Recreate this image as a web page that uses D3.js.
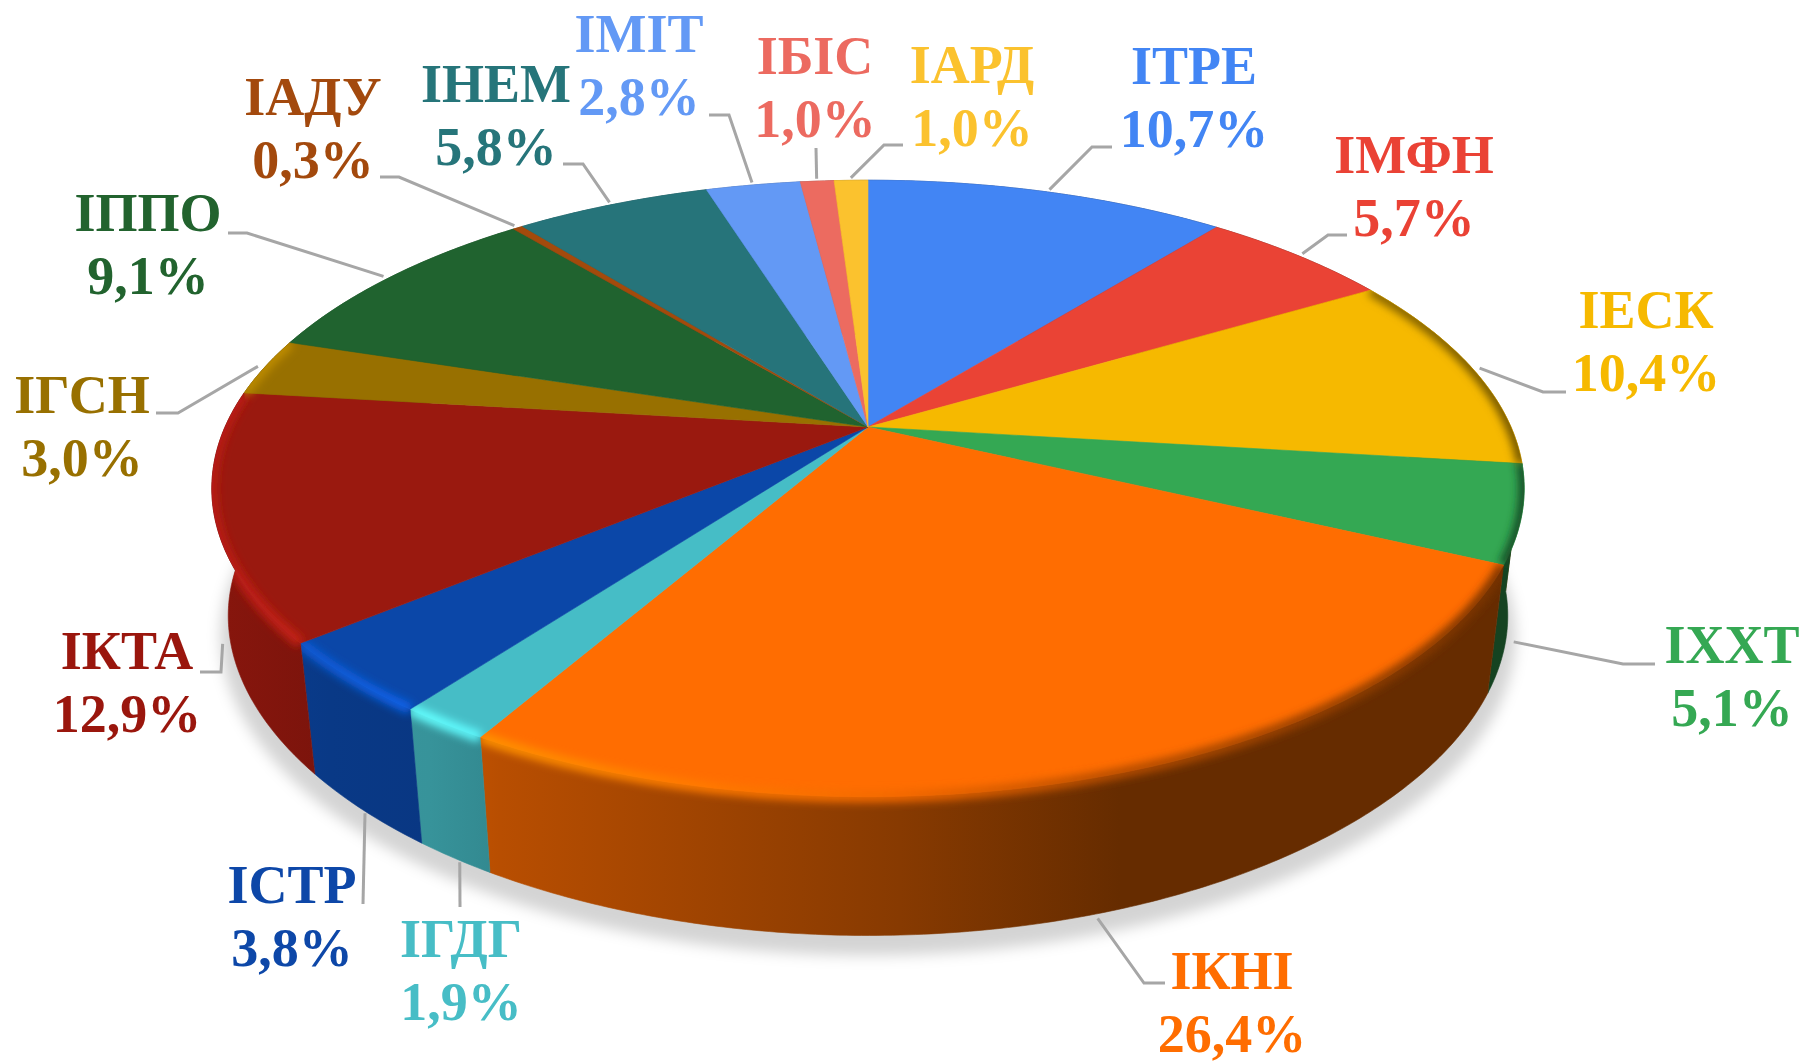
<!DOCTYPE html>
<html>
<head>
  <meta charset="utf-8">
  <title>Розподіл за інститутами</title>
  <script src="https://d3js.org/d3.v7.min.js"></script>
  <style>
    html, body {
      margin: 0;
      padding: 0;
      background: #fff;
    }
    svg {
      display: block;
    }
    .label text {
      font-family: "Liberation Serif", serif;
      font-weight: bold;
      font-size: 54px;
      text-anchor: middle;
    }
    .leader {
      fill: none;
      stroke: #a6a6a6;
      stroke-width: 3;
    }
  </style>
</head>
<body>
  <div id="chart"></div>

  <script>
    // data, clockwise from 12 o'clock
    const categories = ["ІТРЕ", "ІМФН", "ІЕСК", "ІХХТ", "ІКНІ", "ІГДГ", "ІСТР", "ІКТА", "ІГСН", "ІППО", "ІАДУ", "ІНЕМ", "ІМІТ", "ІБІС", "ІАРД"];
    const shares = [10.7, 5.7, 10.4, 5.1, 26.4, 1.9, 3.8, 12.9, 3.0, 9.1, 0.3, 5.8, 2.8, 1.0, 1.0];
    const colors = ["#4285f4", "#ea4335", "#f6b900", "#34a853", "#ff6d01", "#46bdc6", "#0b47a8", "#9a190f", "#987000", "#20632f", "#a34a0c", "#26747a", "#6399f5", "#ec6b60", "#fbc22e"];

    // label layout, same order as categories
    const labelX = [1194, 1414, 1646, 1732, 1232, 461, 292, 127, 82, 148, 313, 496, 639, 815, 972];
    const labelY = [84, 173, 328, 663, 989, 957, 903, 669, 413, 231, 115, 102, 52, 74, 83];
    const leaderElbow = [[1092, 147], [1328, 235], [1543, 392], [1623, 664], [1144, 983], null, null, [221, 672], [178, 413], [247, 233], [399, 177], [583, 164], [729, 115], null, [884, 145]];
    const leaderEnd = [[1112, 147], [1347, 235], [1566, 392], [1655, 664], [1165, 983], [460, 907], [363, 904], [200, 672], [156, 413], [228, 233], [380, 177], [563, 164], [709, 115], [816, 148], [903, 145]];
    const leaderShift = [0, 0, 0, 0, -5, 11, 9, 0, 0, 0, 0, 0, 0, 0, 0];

    const width = 1802;
    const height = 1063;
    const lineGap = 62.5;

    // pie geometry: a circle seen in perspective, with a lower rim for the side wall
    const cx = 868, cy = 427;
    const radX = 643, radY = 296, persp = 0.1994;
    const bottomScale = 0.975, depth = 148, depthSides = 20;
    const angleLean = 0.006; // rim points sit a bit further to the front than the plain projection

    function project(angle, r, bottom) {
      const t = angle + angleLean * Math.sin(angle);
      const u = r * Math.sin(t);
      const v = -r * Math.cos(t);
      const s = 1 / (1 - persp * v);
      let x = radX * u * s;
      let y = radY * v * s;
      if (bottom) {
        x *= bottomScale;
        y = y * bottomScale + depth - depthSides * u * u; // wall looks shorter towards the sides
      }
      return [cx + x, cy + y];
    }

    function arcPoints(a0, a1, bottom) {
      const n = Math.max(2, Math.ceil((a1 - a0) / 0.01));
      return d3.range(n + 1).map(i => project(a0 + (a1 - a0) * i / n, 1, bottom));
    }

    const line = d3.line();
    const closed = pts => line(pts) + "Z";

    const slices = d3.pie().sort(null).value(d => d)(shares);

    const svg = d3.select("#chart")
      .append("svg")
      .attr("width", width)
      .attr("height", height);

    const defs = svg.append("defs");

    // side wall gets darker from left to right
    const shadeX = d3.scaleLinear().domain([200, 1530]).range([0, 1]);
    const sideStops = [[211, 0.88], [330, 0.8], [430, 0.78], [500, 0.72], [900, 0.53], [1120, 0.4], [1530, 0.4]];
    const bevelStops = [[211, 1.2], [330, 1.3], [430, 1.42], [520, 1.3], [700, 1.12], [900, 0.95], [1100, 0.72], [1530, 0.45]];

    function tint(color, f) {
      const c = d3.rgb(color);
      return d3.rgb(c.r * f, c.g * f, c.b * f).formatHex();
    }

    function addGradient(id, color, stops) {
      const g = defs.append("linearGradient")
        .attr("id", id)
        .attr("gradientUnits", "userSpaceOnUse")
        .attr("x1", shadeX.invert(0)).attr("y1", 0)
        .attr("x2", shadeX.invert(1)).attr("y2", 0);
      stops.forEach(s => {
        g.append("stop")
          .attr("offset", shadeX(s[0]))
          .attr("stop-color", tint(color, s[1]));
      });
    }

    function addBlur(id, dev) {
      defs.append("filter")
        .attr("id", id)
        .attr("filterUnits", "userSpaceOnUse")
        .attr("x", 0).attr("y", 0)
        .attr("width", width).attr("height", height)
        .append("feGaussianBlur")
        .attr("stdDeviation", dev);
    }
    addBlur("shadowBlur", 7);
    addBlur("bevelBlur", 4);
    addBlur("softBlur", 0.5);

    // drop shadow under the pie
    const rim = arcPoints(0, 2 * Math.PI, true);
    svg.append("path")
      .attr("d", closed(rim.map(p => [cx + (p[0] - cx) * 1.012, p[1] + 20])))
      .attr("fill", "#000")
      .attr("fill-opacity", 0.17)
      .attr("filter", "url(#shadowBlur)");

    // leader lines
    svg.append("g")
      .attr("filter", "url(#softBlur)")
      .selectAll("path")
      .data(slices)
      .enter()
      .append("path")
      .attr("class", "leader")
      .attr("d", (d, i) => {
        const mid = (d.startAngle + d.endAngle) / 2;
        const front = mid > 1.65 && mid < 4.65;
        const start = project(mid, 1.012, front);
        const pts = [[start[0] + leaderShift[i], start[1]]];
        if (leaderElbow[i]) pts.push(leaderElbow[i]);
        pts.push(leaderEnd[i]);
        return line(pts);
      });

    // side wall
    const sides = svg.append("g");
    slices.forEach((d, i) => {
      addGradient("side" + i, colors[i], sideStops);
      addGradient("bevel" + i, colors[i], bevelStops);
      const pts = arcPoints(d.startAngle, d.endAngle, false)
        .concat(arcPoints(d.startAngle, d.endAngle, true).reverse());
      sides.append("path")
        .attr("d", closed(pts))
        .attr("fill", "url(#side" + i + ")")
        .attr("stroke", "url(#side" + i + ")")
        .attr("stroke-width", 0.6);
    });

    // top face
    const topFace = d => closed([[cx, cy]].concat(arcPoints(d.startAngle, d.endAngle, false)));
    svg.append("g")
      .selectAll("path")
      .data(slices)
      .enter()
      .append("path")
      .attr("d", topFace)
      .attr("fill", (d, i) => colors[i])
      .attr("stroke", (d, i) => colors[i])
      .attr("stroke-width", 0.6);

    // soft bevel where the top meets the wall, front slices only
    const bevels = svg.append("g");
    slices.forEach((d, i) => {
      const mid = (d.startAngle + d.endAngle) / 2;
      if (mid < 1.2 || mid > 5.0) return;
      const top = arcPoints(d.startAngle, d.endAngle, false);
      const wall = top.concat(arcPoints(d.startAngle, d.endAngle, true).reverse());
      const clip = defs.append("clipPath").attr("id", "clip" + i);
      clip.append("path").attr("d", topFace(d));
      clip.append("path").attr("d", closed(wall));
      bevels.append("g")
        .attr("clip-path", "url(#clip" + i + ")")
        .append("path")
        .attr("d", line(top))
        .attr("fill", "none")
        .attr("stroke", "url(#bevel" + i + ")")
        .attr("stroke-width", 11)
        .attr("filter", "url(#bevelBlur)");
    });

    // labels
    const labels = svg.append("g")
      .attr("class", "label")
      .attr("filter", "url(#softBlur)");
    categories.forEach((name, i) => {
      const g = labels.append("g").attr("fill", colors[i]);
      g.append("text")
        .attr("x", labelX[i])
        .attr("y", labelY[i])
        .text(name);
      g.append("text")
        .attr("x", labelX[i])
        .attr("y", labelY[i] + lineGap)
        .text(shares[i].toFixed(1).replace(".", ",") + "%");
    });
  </script>
</body>
</html>
